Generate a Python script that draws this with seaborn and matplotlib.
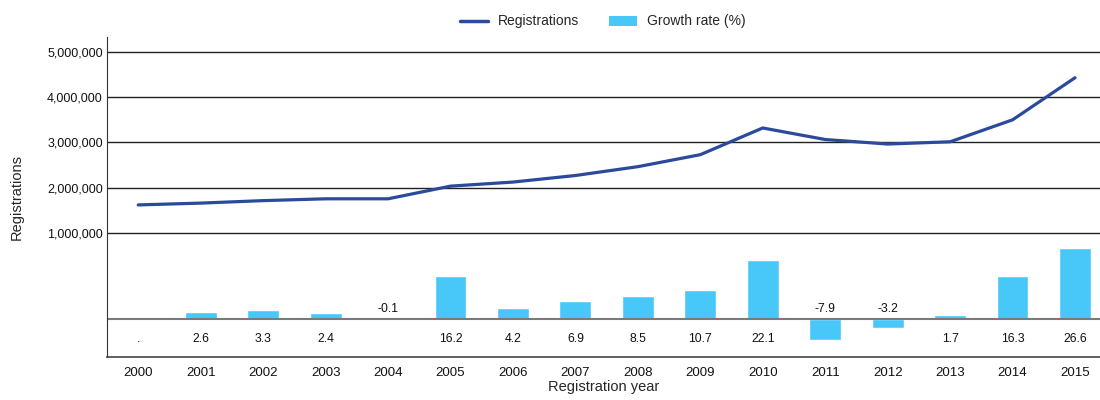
import numpy as np
import pandas as pd
import matplotlib
matplotlib.use("Agg")
import matplotlib.pyplot as plt
import matplotlib.ticker as mticker
from matplotlib.lines import Line2D
from matplotlib.patches import Patch
import seaborn as sns

# =========================
# DATA
# =========================

years = ["2000", "2001", "2002", "2003", "2004", "2005", "2006", "2007",
         "2008", "2009", "2010", "2011", "2012", "2013", "2014", "2015"]

registrations = [1620000, 1660000, 1715000, 1755000, 1755000, 2035000,
                 2125000, 2270000, 2465000, 2730000, 3320000, 3065000,
                 2965000, 3015000, 3500000, 4430000]

growth = [np.nan, 2.6, 3.3, 2.4, -0.1, 16.2, 4.2, 6.9,
          8.5, 10.7, 22.1, -7.9, -3.2, 1.7, 16.3, 26.6]

line_color = "#2B4A9B"
bar_color = "#47C8F9"

df = pd.DataFrame({"year": years, "registrations": registrations, "growth": growth})

# =========================
# STYLE
# =========================

sns.set_style("white")
plt.rcParams["font.family"] = ["Liberation Sans", "DejaVu Sans"]
plt.rcParams["font.size"] = 9.5

fig = plt.figure(figsize=(11, 4), dpi=100)
ax1 = fig.add_axes([107 / 1100, 1 - 357 / 400, 1 - 107 / 1100, 320 / 400])
ax2 = ax1.twinx()

# =========================
# GROWTH BARS
# =========================

sns.barplot(data=df, x="year", y="growth", color=bar_color, width=0.51,
            saturation=1, ax=ax2, zorder=2)
ax2.axhline(0, color="#7a7a7a", linewidth=1.5, zorder=3)
ax2.set_ylim(-14.2, 105.6)
ax2.set_yticks([])
ax2.set_ylabel("")
for s in ax2.spines.values():
    s.set_visible(False)

for i, v in enumerate(growth):
    if np.isnan(v):
        label, dy = ".", -14
    elif v >= 0:
        label, dy = f"{v:.1f}", -14
    else:
        label, dy = f"{v:.1f}", 7
    ax2.annotate(label, (i, 0), xytext=(0, dy), textcoords="offset points",
                 ha="center", va="center", fontsize=8.8, color="#111111")

# =========================
# REGISTRATIONS LINE
# =========================

ax1.set_zorder(ax2.get_zorder() + 1)
ax1.patch.set_visible(False)
sns.lineplot(data=df, x="year", y="registrations", color=line_color,
             linewidth=2.3, ax=ax1, sort=False)
ax1.set_ylim(-1740000, 5330000)
ax1.set_yticks([1000000, 2000000, 3000000, 4000000, 5000000])
ax1.yaxis.set_major_formatter(mticker.FuncFormatter(lambda v, p: f"{int(v):,}"))
for t in ax1.get_yticks():
    ax1.axhline(t, color="#222222", linewidth=1, zorder=0)
ax1.set_xlim(-0.5, 15.4)
ax2.set_xlim(-0.5, 15.4)

ax1.spines["top"].set_visible(False)
ax1.spines["right"].set_visible(False)
ax1.spines["left"].set_color("#333333")
ax1.spines["bottom"].set_color("#444444")
ax1.spines["bottom"].set_linewidth(1.2)
ax1.tick_params(axis="y", length=0, pad=3, labelsize=9, colors="#111111")
ax1.tick_params(axis="x", length=0, pad=7, labelsize=9.5, colors="#111111")

ax1.set_ylabel("Registrations", fontsize=10.5, labelpad=17)
ax1.set_xlabel("Registration year", fontsize=10.5, labelpad=1)

# =========================
# LEGEND
# =========================

handles = [Line2D([0], [0], color=line_color, linewidth=2.5),
           Patch(facecolor=bar_color, edgecolor="none")]
fig.legend(handles, ["Registrations", "Growth rate (%)"], loc="upper center",
           bbox_to_anchor=(0.548, 0.995), ncol=2, frameon=False, fontsize=10,
           handlelength=2.0, handletextpad=0.7, columnspacing=2.2)

fig.savefig("out.png", dpi=100)
